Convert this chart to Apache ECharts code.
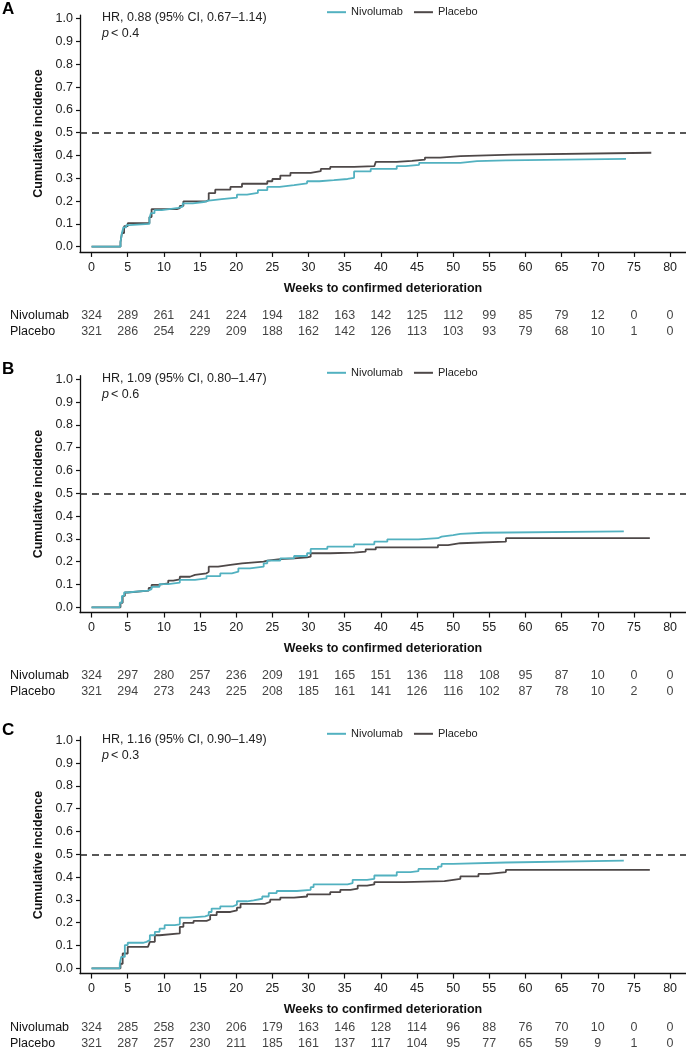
<!DOCTYPE html>
<html>
<head>
<meta charset="utf-8">
<script src="https://cdn.jsdelivr.net/npm/echarts@6/dist/echarts.min.js"></script>
<style>
html,body{margin:0;padding:0;background:#fff;}
#main{width:686px;height:1050px;}
</style>
</head>
<body>
<div id="main"></div>
<script>
// ---------- DATA ----------
var weekTicks = [0,5,10,15,20,25,30,35,40,45,50,55,60,65,70,75,80];
var yTicks = [0,0.1,0.2,0.3,0.4,0.5,0.6,0.7,0.8,0.9,1.0];
var seriesNames = ['Nivolumab','Placebo'];
var panelLetters = ['A','B','C'];
var hrTexts = ['HR, 0.88 (95% CI, 0.67\u20131.14)','HR, 1.09 (95% CI, 0.80\u20131.47)','HR, 1.16 (95% CI, 0.90\u20131.49)'];
var pTexts = ['< 0.4','< 0.6','< 0.3'];
var refLine = 0.5;

// Panel A
var aNivoT = [0,4.0,4.2,4.4,4.8,5.2,8.0,8.2,8.7,9.7,11.0,12.0,12.6,14.0,15.5,16.2,18.0,20.1,21.5,23.0,24.3,26.0,28.0,29.8,31.5,33.5,35.4,36.3,38.6,42.2,43.4,45.3,51.0,53.3,57.3,73.9];
var aNivoV = [0,0.02,0.06,0.085,0.095,0.10,0.125,0.147,0.160,0.166,0.170,0.176,0.190,0.196,0.202,0.209,0.215,0.228,0.236,0.248,0.262,0.270,0.278,0.287,0.292,0.297,0.302,0.330,0.341,0.353,0.359,0.368,0.375,0.379,0.385,0.385];
var aPlacT = [0,4.0,4.2,4.5,5.0,8.0,8.3,11.8,12.2,12.7,15.9,16.2,17.1,19.2,20.8,24.3,25.0,26.1,27.5,30.3,31.7,33.0,36.3,39.1,39.3,42.2,44.3,46.1,48.2,51.0,58.2,77.4];
var aPlacV = [0,0.02,0.06,0.09,0.103,0.13,0.165,0.169,0.179,0.199,0.206,0.235,0.250,0.262,0.276,0.287,0.297,0.312,0.324,0.331,0.341,0.350,0.353,0.357,0.372,0.376,0.382,0.391,0.397,0.404,0.412,0.412];
var aNivoRisk = [324,289,261,241,224,194,182,163,142,125,112,99,85,79,12,0,0];
var aPlacRisk = [321,286,254,229,209,188,162,142,126,113,103,93,79,68,10,1,0];

// Panel B
var bNivoT = [0,3.9,4.2,4.5,4.8,7.8,8.3,9.4,10.6,12.2,14.3,15.9,17.8,19.4,20.3,21.9,23.8,24.3,26.1,28.0,29.8,30.3,32.6,36.3,39.1,40.9,45.2,47.9,48.4,50.0,51.0,54.2,73.6];
var bNivoV = [0,0.02,0.05,0.065,0.073,0.08,0.09,0.102,0.108,0.12,0.127,0.137,0.149,0.156,0.171,0.178,0.193,0.205,0.215,0.225,0.237,0.256,0.266,0.276,0.288,0.298,0.303,0.31,0.317,0.322,0.327,0.333,0.333];
var bPlacT = [0,4.0,4.3,4.6,5.0,7.9,8.3,9.2,10.6,11.3,12.2,13.6,14.3,15.9,16.2,17.5,19.2,20.8,23.8,24.3,26.1,28.0,29.8,30.3,33.0,36.3,37.9,39.3,47.9,49.3,51.0,57.3,77.2];
var bPlacV = [0,0.02,0.05,0.065,0.073,0.085,0.098,0.105,0.117,0.123,0.134,0.142,0.149,0.156,0.178,0.186,0.193,0.20,0.205,0.211,0.215,0.219,0.222,0.237,0.240,0.244,0.254,0.263,0.273,0.281,0.288,0.303,0.303];
var bNivoRisk = [324,297,280,257,236,209,191,165,151,136,118,108,95,87,10,0,0];
var bPlacRisk = [321,294,273,243,225,208,185,161,141,126,116,102,87,78,10,2,0];

// Panel C
var cNivoT = [0,3.9,4.1,4.6,5.0,7.1,7.6,8.06,8.75,9.4,10.1,11.5,12.2,13.6,15.7,16.2,16.6,17.8,19.6,20.1,21.5,22.4,23.6,24.5,25.6,28.4,30.3,30.7,35.4,36.1,38.1,39.1,42.2,44.1,45.2,47.9,48.4,50.0,57.3,73.6];
var cNivoV = [0,0.02,0.05,0.102,0.112,0.116,0.124,0.145,0.16,0.174,0.189,0.193,0.222,0.228,0.233,0.247,0.262,0.272,0.279,0.294,0.298,0.305,0.315,0.33,0.339,0.344,0.356,0.368,0.374,0.388,0.392,0.407,0.422,0.426,0.436,0.446,0.458,0.464,0.472,0.472];
var cPlacT = [0,4.0,4.3,5.0,7.8,8.06,8.75,9.4,12.2,12.7,14.1,15.9,16.4,17.3,19.2,20.1,20.6,24.0,24.7,26.1,28.0,29.8,33.0,34.4,35.8,36.8,38.1,39.1,43.2,48.8,49.3,51.0,53.5,54.9,57.3,77.2];
var cPlacV = [0,0.02,0.065,0.094,0.102,0.116,0.145,0.153,0.182,0.199,0.208,0.214,0.233,0.247,0.254,0.266,0.283,0.291,0.301,0.31,0.315,0.324,0.334,0.344,0.349,0.363,0.368,0.378,0.382,0.385,0.392,0.403,0.414,0.422,0.432,0.432];
var cNivoRisk = [324,285,258,230,206,179,163,146,128,114,96,88,76,70,10,0,0];
var cPlacRisk = [321,287,257,230,211,185,161,137,117,104,95,77,65,59,9,1,0];

// ---------- BUILD ----------
(function(){
var curves = [[aNivoT,aNivoV,aPlacT,aPlacV],[bNivoT,bNivoV,bPlacT,bPlacV],[cNivoT,cNivoV,cPlacT,cPlacV]];
var risks = [[aNivoRisk,aPlacRisk],[bNivoRisk,bPlacRisk],[cNivoRisk,cPlacRisk]];
var colors = ['#52b1c0','#4e4848'];
var FONT = '"Liberation Sans", Arial, Helvetica, sans-serif';
var zeroY = [246.7, 607.3, 968.3];
var tableTop = [307.5, 667.5, 1020];
var pxPerUnit = 228;
var yMin = -0.023, yMax = 1.016;
var xMin = -1.6, xMax = 82.2;

function zip(t, v){ var o=[]; for(var i=0;i<t.length;i++) o.push([t[i], v[i]]); return o; }

var grids=[], xAxes=[], yAxes=[], series=[], legends=[], graphics=[];
for (var p=0;p<3;p++){
  var gTop = zeroY[p] - yMax*pxPerUnit;
  var gHeight = (yMax - yMin)*pxPerUnit;
  grids.push({left:80, width:606, top:gTop, height:gHeight, outerBoundsMode:'none'});
  var gi = grids.length-1;
  xAxes.push({
    type:'value', gridIndex:gi, min:xMin, max:xMax,
    name:'Weeks to confirmed deterioration', nameLocation:'middle', nameGap:30,
    nameTextStyle:{fontFamily:FONT, fontWeight:'bold', fontSize:12.5, color:'#111'},
    axisLine:{show:true, onZero:false, lineStyle:{color:'#111', width:1.3}},
    axisTick:{show:true, length:5, lineStyle:{color:'#111', width:1.2}, customValues:weekTicks},
    axisLabel:{show:true, margin:9, fontFamily:FONT, fontSize:12.5, color:'#222', customValues:weekTicks},
    splitLine:{show:false}
  });
  yAxes.push({
    type:'value', gridIndex:gi, min:yMin, max:yMax,
    name:'Cumulative incidence', nameLocation:'middle', nameGap:29, nameRotate:90,
    nameTextStyle:{fontFamily:FONT, fontWeight:'bold', fontSize:12.5, color:'#111'},
    axisLine:{show:true, onZero:false, lineStyle:{color:'#111', width:1.3}},
    axisTick:{show:true, length:4, lineStyle:{color:'#111', width:1.2}, customValues:yTicks},
    axisLabel:{show:true, margin:7, fontFamily:FONT, fontSize:12.5, color:'#222', customValues:yTicks,
      formatter:function(v){ return Number(v).toFixed(1); }},
    splitLine:{show:false}
  });
  var c = curves[p];
  series.push({
    name:seriesNames[1], type:'line', xAxisIndex:gi, yAxisIndex:gi, step:'end', symbol:'none',
    data:zip(c[2],c[3]), lineStyle:{color:colors[1], width:1.8}, itemStyle:{color:colors[1]}, z:3,
    markLine:{silent:true, symbol:'none', label:{show:false},
      lineStyle:{color:'#222', width:1.6, type:[7,5]}, data:[{yAxis:refLine}]}
  });
  series.push({
    name:seriesNames[0], type:'line', xAxisIndex:gi, yAxisIndex:gi, step:'end', symbol:'none',
    data:zip(c[0],c[1]), lineStyle:{color:colors[0], width:1.8}, itemStyle:{color:colors[0]}, z:4
  });

  // at-risk table grid
  grids.push({left:80, width:606, top:tableTop[p], height:32, outerBoundsMode:'none'});
  var ti = grids.length-1;
  xAxes.push({type:'value', gridIndex:ti, min:xMin, max:xMax, show:false});
  yAxes.push({type:'category', gridIndex:ti, data:seriesNames, inverse:true,
    axisLine:{show:false}, axisTick:{show:false}, splitLine:{show:false},
    axisLabel:{show:true, interval:0, align:'left', margin:70, fontFamily:FONT, fontSize:12.5, color:'#111'}});
  for (var s=0;s<2;s++){
    var d=[];
    for (var k=0;k<weekTicks.length;k++) d.push([weekTicks[k], s, risks[p][s][k]]);
    series.push({
      type:'scatter', xAxisIndex:ti, yAxisIndex:ti, symbolSize:1, data:d, silent:true,
      itemStyle:{color:'rgba(255,255,255,0)'},
      label:{show:true, position:'inside', fontFamily:FONT, fontSize:12.5, color:'#111',
        formatter:function(prm){ return String(prm.value[2]); }},
      labelLayout:{hideOverlap:false}
    });
  }

  legends.push({
    data:seriesNames, left:322, top:zeroY[p]-245, orient:'horizontal', itemGap:11,
    itemWidth:19, itemHeight:2, icon:'rect',
    textStyle:{fontFamily:FONT, fontSize:11, color:'#222'}
  });

  graphics.push({type:'text', left:2, top:zeroY[p]-246, style:{text:panelLetters[p], font:'bold 17px '+FONT, fill:'#000'}});
  graphics.push({type:'text', left:102, top:zeroY[p]-235.5, style:{text:hrTexts[p], font:'12.5px '+FONT, fill:'#222'}});
  graphics.push({type:'text', left:102, top:zeroY[p]-219.5, style:{text:'p', font:'italic 12.5px '+FONT, fill:'#222'}});
  graphics.push({type:'text', left:111, top:zeroY[p]-219.5, style:{text:pTexts[p], font:'12.5px '+FONT, fill:'#222'}});
}

var chart = echarts.init(document.getElementById('main'), null, {renderer:'canvas'});
chart.setOption({
  backgroundColor:'#ffffff',
  animation:false,
  grid:grids, xAxis:xAxes, yAxis:yAxes, series:series, legend:legends, graphic:graphics
});
})();
</script>
</body>
</html>
